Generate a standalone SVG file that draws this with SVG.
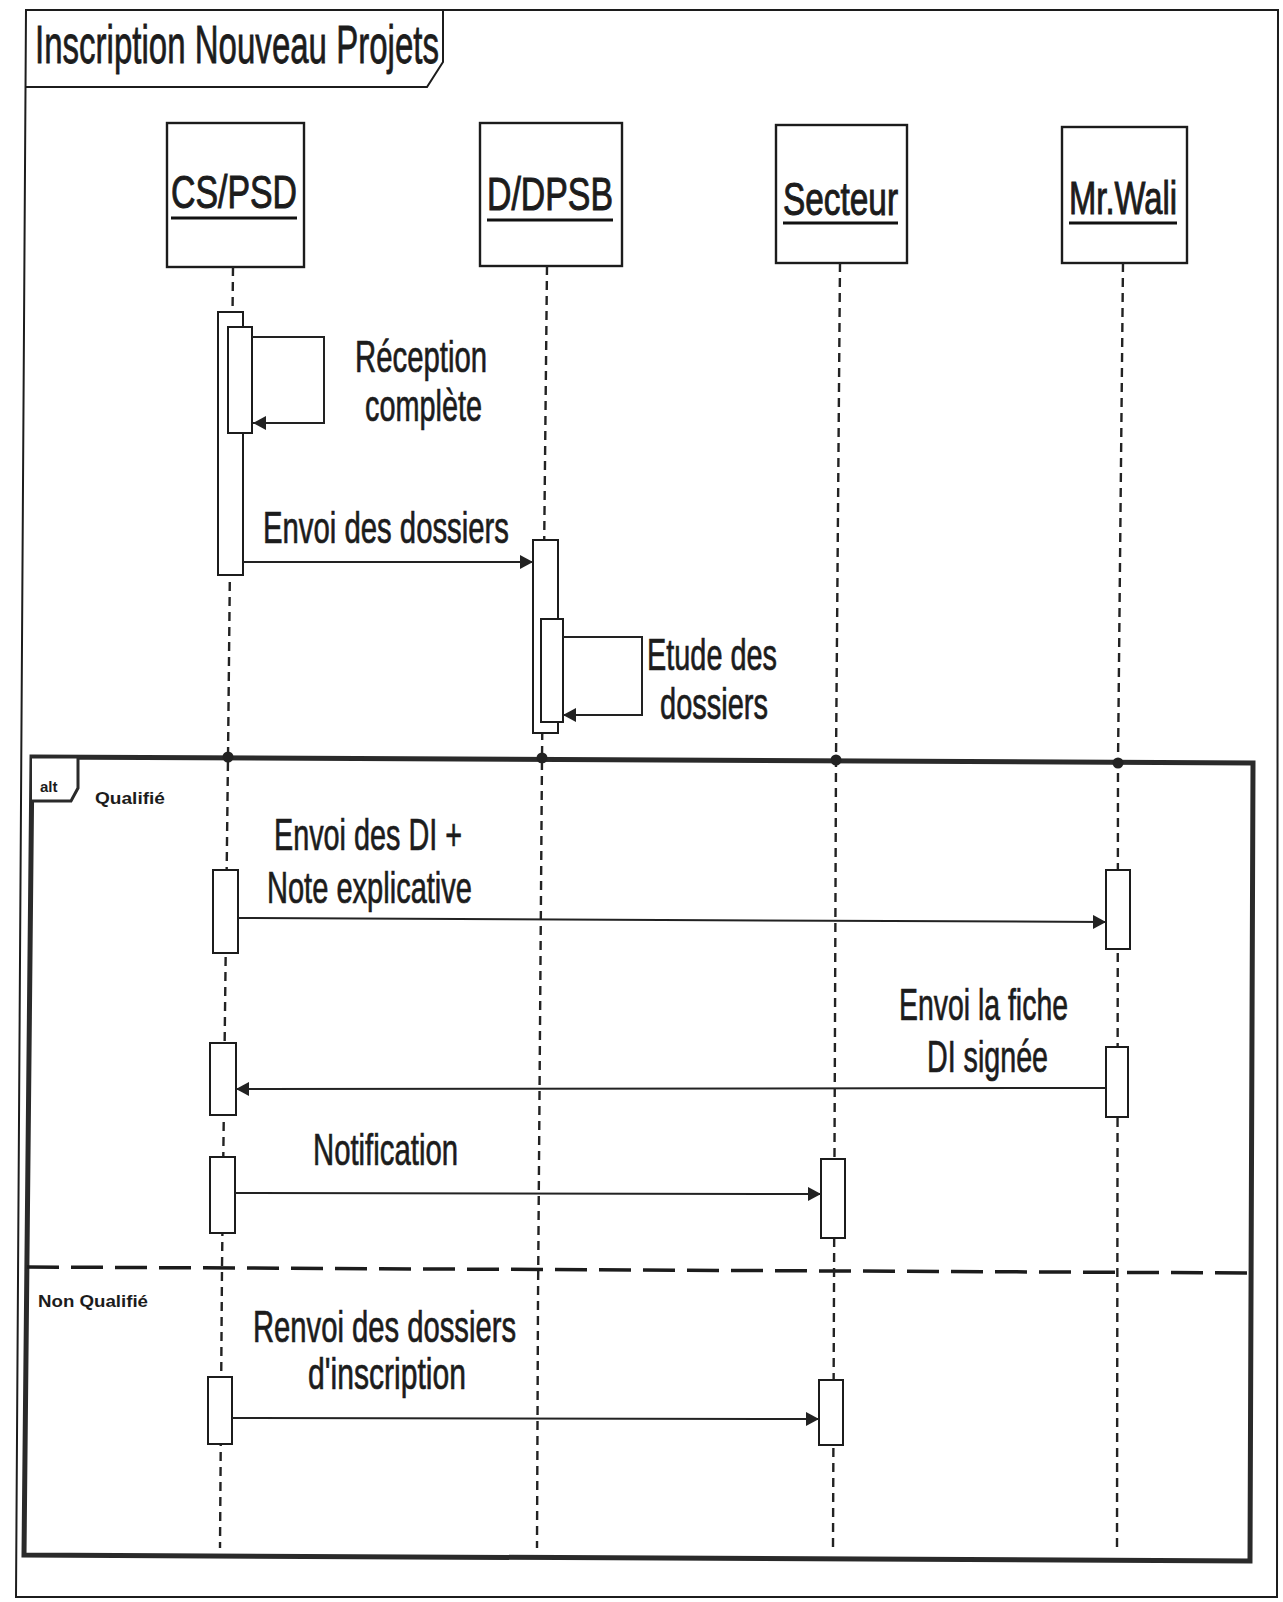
<svg xmlns="http://www.w3.org/2000/svg" width="1283" height="1602" viewBox="0 0 1283 1602">
<style>
.t{font-family:"Liberation Sans",Arial,sans-serif;fill:#1c1c1c}
.big{font-size:44px;stroke:#1c1c1c;stroke-width:0.7}
.hdr{font-size:46px;stroke:#1c1c1c;stroke-width:1}
.sm{font-size:17px;font-weight:bold}
.box{fill:#fff;stroke:#1c1c1c;stroke-width:2.4}
.act{fill:#fff;stroke:#1c1c1c;stroke-width:2}
.life{fill:none;stroke:#222;stroke-width:2.4;stroke-dasharray:9 6}
.msg{fill:none;stroke:#222;stroke-width:2;marker-end:url(#ah)}
.ul{stroke:#111;stroke-width:3}
.frame{fill:none;stroke:#2a2a2a;stroke-width:5}
</style>
<defs>
<marker id="ah" markerUnits="userSpaceOnUse" markerWidth="14" markerHeight="14" refX="13" refY="7" orient="auto">
<path d="M0,0 L13,7 L0,14 z" fill="#222"/>
</marker>
</defs>
<rect width="1283" height="1602" fill="#fff"/>

<g id="diagram-frame">
<path d="M26,10 L1278,10 L1277,1597 L16,1597 Z" fill="none" stroke="#1c1c1c" stroke-width="2"/>
<path d="M26,87 L427,87 L443,62 L443,10" fill="none" stroke="#1c1c1c" stroke-width="2"/>
<text class="t" x="35" y="63" font-size="54" stroke="#1c1c1c" stroke-width="0.8" textLength="404" lengthAdjust="spacingAndGlyphs">Inscription Nouveau Projets</text>
</g>

<g id="alt-fragment">
<path class="frame" d="M32,757 L1253,763 L1250,1561 L24,1555 Z"/>
<path d="M32,757 L78,757 L78,788 L71,801 L32,801" fill="#fff" stroke="#2a2a2a" stroke-width="3"/>
<text class="t" x="40" y="792" font-size="15" font-weight="bold">alt</text>
<text class="t sm" x="95" y="804" textLength="70" lengthAdjust="spacingAndGlyphs">Qualifié</text>
<line x1="27" y1="1267" x2="1250" y2="1273" stroke="#1c1c1c" stroke-width="3.5" stroke-dasharray="32 12"/>
<text class="t sm" x="38" y="1307" textLength="110" lengthAdjust="spacingAndGlyphs">Non Qualifié</text>
</g>

<g id="lifeline-cspsd">
<rect class="box" x="167" y="123" width="137" height="144"/>
<text class="t hdr" x="171" y="208" textLength="126" lengthAdjust="spacingAndGlyphs">CS/PSD</text>
<line class="ul" x1="171" y1="218" x2="297" y2="218"/>
<polyline class="life" points="233,267 228,757 222,1267 220,1548"/>
<circle cx="228" cy="757" r="5.5" fill="#222"/>
<rect class="act" x="218" y="312" width="25" height="263"/>
<rect class="act" x="228" y="327" width="24" height="106"/>
<rect class="act" x="213" y="870" width="25" height="83"/>
<rect class="act" x="210" y="1043" width="26" height="72"/>
<rect class="act" x="210" y="1157" width="25" height="76"/>
<rect class="act" x="208" y="1377" width="24" height="67"/>
</g>

<g id="lifeline-ddpsb">
<rect class="box" x="480" y="123" width="142" height="143"/>
<text class="t hdr" x="487" y="210" textLength="126" lengthAdjust="spacingAndGlyphs">D/DPSB</text>
<line class="ul" x1="487" y1="220" x2="613" y2="220"/>
<polyline class="life" points="547,266 542,758 538,1300 537,1548"/>
<circle cx="542" cy="758" r="5.5" fill="#222"/>
<rect class="act" x="533" y="540" width="25" height="193"/>
<rect class="act" x="541" y="619" width="22" height="103"/>
</g>

<g id="lifeline-secteur">
<rect class="box" x="776" y="125" width="131" height="138"/>
<text class="t hdr" x="783" y="215" textLength="115" lengthAdjust="spacingAndGlyphs">Secteur</text>
<line class="ul" x1="783" y1="223" x2="898" y2="223"/>
<polyline class="life" points="840,263 836,760 833,1548"/>
<circle cx="836" cy="760" r="5.5" fill="#222"/>
<rect class="act" x="821" y="1159" width="24" height="79"/>
<rect class="act" x="819" y="1380" width="24" height="65"/>
</g>

<g id="lifeline-wali">
<rect class="box" x="1062" y="127" width="125" height="136"/>
<text class="t hdr" x="1069" y="214" textLength="108" lengthAdjust="spacingAndGlyphs">Mr.Wali</text>
<line class="ul" x1="1069" y1="223" x2="1177" y2="223"/>
<polyline class="life" points="1123,263 1118,763 1117,1548"/>
<circle cx="1118" cy="763" r="5.5" fill="#222"/>
<rect class="act" x="1106" y="870" width="24" height="79"/>
<rect class="act" x="1106" y="1047" width="22" height="70"/>
</g>

<g id="connectors">
<path class="msg" d="M252,337 H324 V423 H253"/>
<path class="msg" d="M243,562 H533"/>
<path class="msg" d="M563,637 H642 V715 H563"/>
<path class="msg" d="M238,918 L1106,922"/>
<path class="msg" d="M1106,1088 L236,1089"/>
<path class="msg" d="M235,1193 L821,1194"/>
<path class="msg" d="M232,1418 L819,1419"/>
</g>

<g id="message-labels">
<text class="t big" x="355" y="372" textLength="132" lengthAdjust="spacingAndGlyphs">Réception</text>
<text class="t big" x="365" y="421" textLength="117" lengthAdjust="spacingAndGlyphs">complète</text>
<text class="t big" x="263" y="543" textLength="246" lengthAdjust="spacingAndGlyphs">Envoi des dossiers</text>
<text class="t big" x="647" y="670" textLength="130" lengthAdjust="spacingAndGlyphs">Etude des</text>
<text class="t big" x="660" y="719" textLength="108" lengthAdjust="spacingAndGlyphs">dossiers</text>
<text class="t big" x="274" y="850" textLength="188" lengthAdjust="spacingAndGlyphs">Envoi des DI +</text>
<text class="t big" x="267" y="903" textLength="205" lengthAdjust="spacingAndGlyphs">Note explicative</text>
<text class="t big" x="899" y="1020" textLength="169" lengthAdjust="spacingAndGlyphs">Envoi la fiche</text>
<text class="t big" x="927" y="1072" textLength="121" lengthAdjust="spacingAndGlyphs">DI signée</text>
<text class="t big" x="313" y="1165" textLength="145" lengthAdjust="spacingAndGlyphs">Notification</text>
<text class="t big" x="253" y="1342" textLength="263" lengthAdjust="spacingAndGlyphs">Renvoi des dossiers</text>
<text class="t big" x="308" y="1389" textLength="158" lengthAdjust="spacingAndGlyphs">d'inscription</text>
</g>
</svg>
